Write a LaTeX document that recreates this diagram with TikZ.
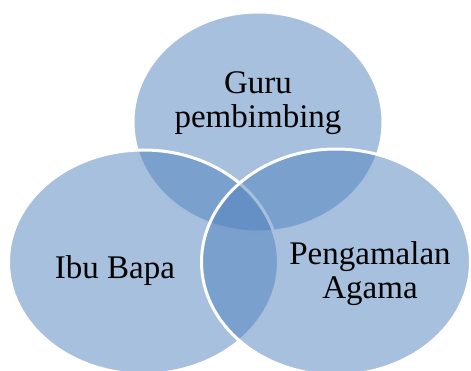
\documentclass[tikz,border=0pt]{standalone}
\usepackage{fontspec}
\setmainfont{Liberation Serif}
\definecolor{vennblue}{RGB}{79,129,189}
\tikzset{venn/.style={fill=vennblue,fill opacity=0.5,draw=white,draw opacity=1,line width=3pt}}
\tikzset{venn_text/.style={inner sep=0,align=center,font=\fontsize{33}{34}\selectfont}}

\begin{document}
\begin{tikzpicture}[x=1pt,y=1pt]
    \useasboundingbox (0,0) rectangle (471,370);
    \clip (0,0) rectangle (471,370);
    \filldraw[venn] (258,248) ellipse (125 and 110);
    \filldraw[venn] (143.5,108) ellipse (135 and 112);
    \filldraw[venn] (336,108) ellipse (134.5 and 113);
    \node[venn_text] (guru_text) at (258,267) {Guru\\pembimbing};
    \node[venn_text] (ibubapa_text) at (115,99) {Ibu Bapa};
    \node[venn_text] (agama_text) at (370,96) {Pengamalan\\Agama};
  \end{tikzpicture}
\end{document}
